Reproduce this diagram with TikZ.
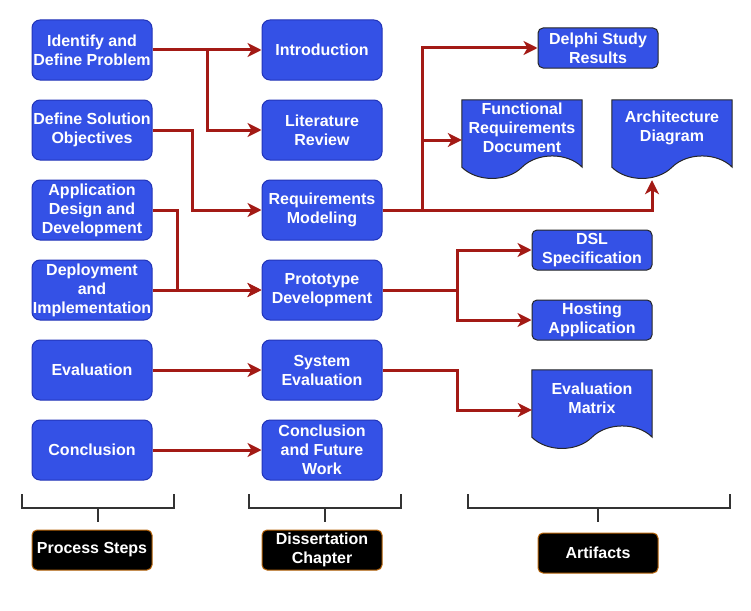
\documentclass[tikz,border=0pt]{standalone}
\usepackage{fontspec}
\setmainfont{Liberation Sans}
\usetikzlibrary{arrows.meta,calc}
\definecolor{boxblue}{HTML}{3451E6}
\definecolor{boxedge}{HTML}{2234B8}
\definecolor{arrred}{HTML}{A31A15}
\definecolor{lbledge}{HTML}{B8650A}
\definecolor{brk}{HTML}{333333}
\newcommand\docshape[1]{%
  \draw[docline] (#1.north west) -- (#1.north east) -- ($(#1.south east)+(0,-13)$)
    .. controls ($(#1.south east)+(-15,-28)$) and ($(#1.south east)+(-45,-28)$) .. ($(#1.south)+(0,-13)$)
    .. controls ($(#1.south)+(-15,2)$) and ($(#1.south)+(-45,2)$) .. ($(#1.south west)+(0,-13)$) -- cycle;}
\begin{document}
\begin{tikzpicture}[x=1pt,y=-1pt,
  every node/.style={font=\fontsize{16}{19}\selectfont\bfseries, text=white, align=center, inner sep=0pt},
  stepbox/.style={draw=boxedge, line width=1pt, fill=boxblue, rounded corners=8pt, minimum width=120pt, minimum height=60pt},
  artbox/.style={draw=black!85, line width=1pt, fill=boxblue, rounded corners=5pt, minimum width=120pt, minimum height=40pt},
  docbox/.style={draw=none, minimum width=120pt, minimum height=80pt},
  docline/.style={draw=black!85, line width=1pt, fill=boxblue},
  lblbox/.style={draw=lbledge, line width=1pt, fill=black, rounded corners=5pt, minimum width=120pt, minimum height=40pt},
  arr/.style={draw=arrred, line width=3pt, -{Stealth[length=14pt,width=14pt,inset=4pt]}},
  brace/.style={draw=brk, line width=2pt},
]
\useasboundingbox (0,0) rectangle (751,610);

% left column: process steps
\node[stepbox] (idp) at (92,50)  {Identify and\\Define Problem};
\node[stepbox] (dso) at (92,130) {Define Solution\\Objectives};
\node[stepbox] (add) at (92,210) {Application\\Design and\\Development};
\node[stepbox] (dep) at (92,290) {Deployment\\and\\Implementation};
\node[stepbox] (eva) at (92,370) {Evaluation};
\node[stepbox] (con) at (92,450) {Conclusion};

% middle column: chapters
\node[stepbox] (intro) at (322,50)  {Introduction};
\node[stepbox] (lit)   at (322,130) {Literature\\Review};
\node[stepbox] (rm)    at (322,210) {Requirements\\Modeling};
\node[stepbox] (pd)    at (322,290) {Prototype\\Development};
\node[stepbox] (se)    at (322,370) {System\\Evaluation};
\node[stepbox] (cfw)   at (322,450) {Conclusion\\and Future\\Work};

% right column: artifacts
\node[artbox] (delphi) at (598,48) {Delphi Study\\Results};
\node[docbox] (frd) at (522,140) {};
\docshape{frd}
\node at ($(frd.center)+(0,-12)$) {Functional\\Requirements\\Document};
\node[docbox] (arch) at (672,140) {};
\docshape{arch}
\node at ($(arch.center)+(0,-12)$) {Architecture\\Diagram};
\node[artbox] (dsl)  at (592,250) {DSL\\Specification};
\node[artbox] (host) at (592,320) {Hosting\\Application};
\node[docbox] (em) at (592,410) {};
\docshape{em}
\node at ($(em.center)+(0,-12)$) {Evaluation\\Matrix};

% connectors
\draw[arr] (idp.east) -- (intro.west);
\draw[arr] (idp.east) -- ($(idp.east)+(55,0)$) |- (lit.west);
\draw[arr] (dso.east) -- ($(dso.east)+(40,0)$) |- (rm.west);
\draw[arr] (add.east) -- ($(add.east)+(25,0)$) |- (pd.west);
\draw[arr] (dep.east) -- (pd.west);
\draw[arr] (eva.east) -- (se.west);
\draw[arr] (con.east) -- (cfw.west);

\draw[arr] (rm.east) -- ($(rm.east)+(40,0)$) |- (delphi.west);
\draw[arr] (rm.east) -- ($(rm.east)+(40,0)$) |- (frd.west);
\draw[arr] (rm.east) -| ($(arch.south)+(-20,0)$);
\draw[arr] (pd.east) -- ($(pd.east)+(75,0)$) |- (dsl.west);
\draw[arr] (pd.east) -- ($(pd.east)+(75,0)$) |- (host.west);
\draw[arr] (se.east) -- ($(se.east)+(75,0)$) |- (em.west);

% brackets
\draw[brace] (22,494) -- (22,508) -- (174,508) -- (174,494);
\draw[brace] (98,508) -- (98,522);
\draw[brace] (249,494) -- (249,508) -- (401,508) -- (401,494);
\draw[brace] (325,508) -- (325,522);
\draw[brace] (468,494) -- (468,508) -- (730,508) -- (730,494);
\draw[brace] (598,508) -- (598,522);

% labels
\node[lblbox] (ps)  at (92,550)  {Process Steps};
\node[lblbox] (dc)  at (322,550) {Dissertation\\Chapter};
\node[lblbox] (art) at (598,553) {Artifacts};
\end{tikzpicture}
\end{document}
